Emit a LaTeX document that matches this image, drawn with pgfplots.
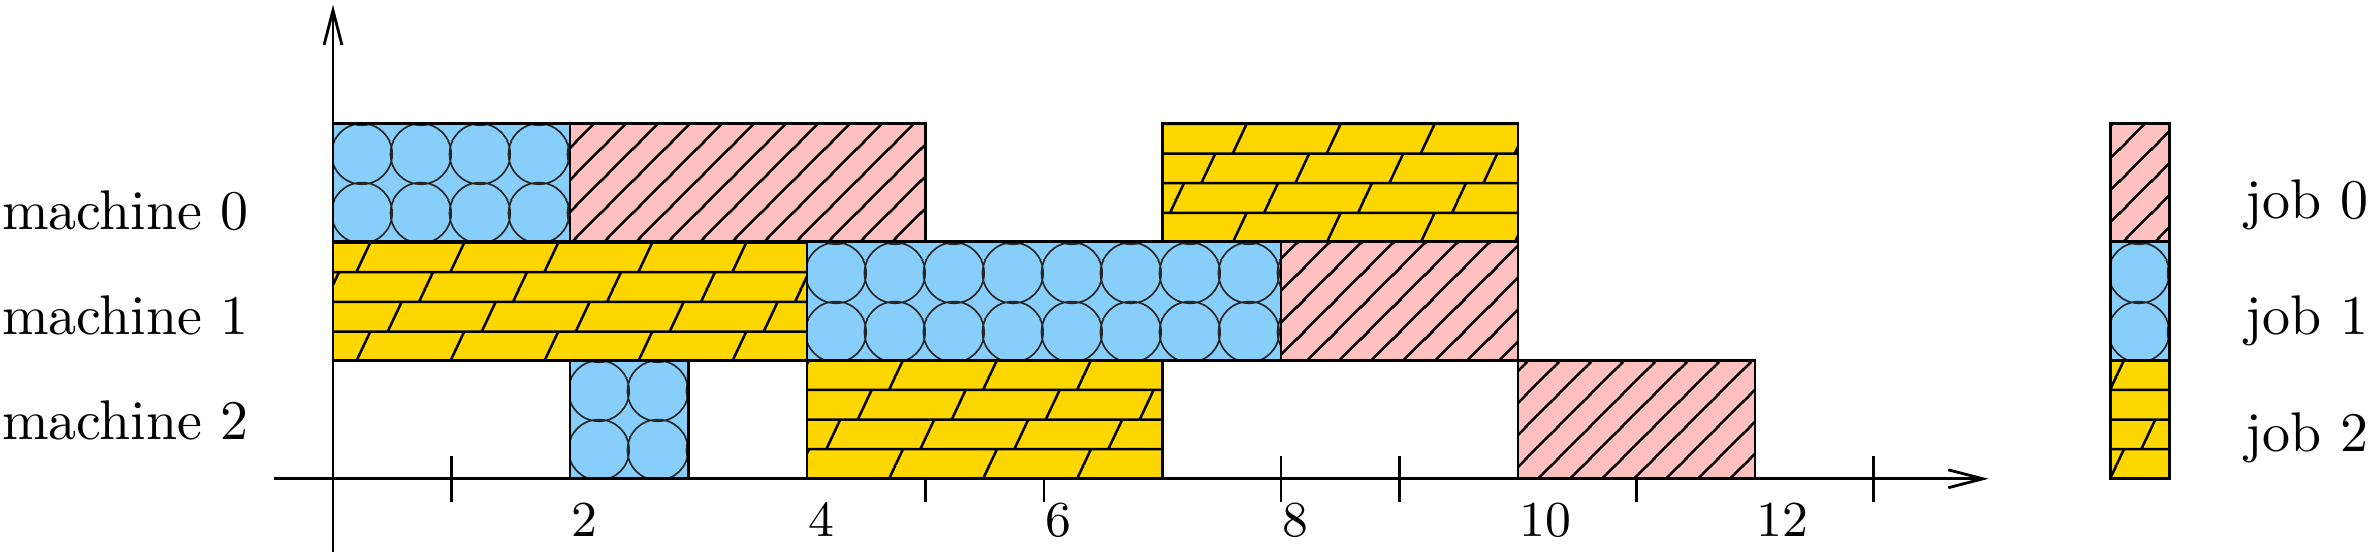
\documentclass[border=0pt]{standalone}
\usepackage{pgfplots}
\pgfplotsset{compat=1.18}
\usetikzlibrary{patterns.meta, arrows.meta}

\definecolor{jobpink}{RGB}{255,192,192}
\definecolor{jobblue}{RGB}{135,206,250}
\definecolor{jobgold}{RGB}{255,215,0}

% patterns are phased against the page corner (-59.57pt,-13.42pt),
% offsets below put the tiles on the axis unit grid
% job 0: 45 degree hatching
\tikzdeclarepattern{
  name=diaglines,
  type=uncolored,
  bounding box={(0pt,0pt) and (5.66pt,5.66pt)},
  tile size={(5.66pt,5.66pt)},
  code={\draw[line width=0.45pt] (0.2pt,-1pt) -- (6.66pt,5.46pt)
    (-1pt,3.46pt) -- (2.2pt,6.66pt);}
}
% job 1: circles, two per unit, barely overlapping
\tikzdeclarepattern{
  name=circlegrid,
  type=uncolored,
  bounding box={(0pt,0pt) and (10.6pt,10.6pt)},
  tile size={(10.6pt,10.6pt)},
  code={\draw[line width=0.3pt]
    (1.27pt,8.12pt) circle[radius=5.45pt]
    (11.87pt,8.12pt) circle[radius=5.45pt]
    (1.27pt,-2.48pt) circle[radius=5.45pt]
    (11.87pt,-2.48pt) circle[radius=5.45pt];}
}
% job 2: slanted bricks, four courses per unit
\tikzdeclarepattern{
  name=slantbricks,
  type=uncolored,
  bounding box={(0pt,0pt) and (16.8pt,15.9pt)},
  tile size={(16.8pt,15.9pt)},
  code={
    \draw[line width=0.45pt] (0pt,2.82pt) -- (16.8pt,2.82pt)
      (0pt,8.12pt) -- (16.8pt,8.12pt) (0pt,13.42pt) -- (16.8pt,13.42pt)
      (13.47pt,2.82pt) -- (15.97pt,8.12pt)
      (2.27pt,8.12pt) -- (4.77pt,13.42pt)
      (7.87pt,13.42pt) -- (10.37pt,18.72pt)
      (7.87pt,-2.48pt) -- (10.37pt,2.82pt);
  }
}

\pgfplotsset{
  job0/.style={draw=black, line width=0.5pt, fill=jobpink,
    postaction={pattern=diaglines, pattern color=black}},
  job1/.style={draw=black, line width=0.5pt, fill=jobblue,
    postaction={pattern=circlegrid, pattern color=black!85}},
  job2/.style={draw=black, line width=0.5pt, fill=jobgold,
    postaction={pattern=slantbricks, pattern color=black}},
}

\begin{document}
\begin{tikzpicture}
\begin{axis}[
  at={(0,0)}, anchor=origin,
  x=21.2pt, y=21.2pt,
  xmin=-0.5, xmax=13.97, ymin=-0.62, ymax=4.0,
  axis lines=middle,
  axis line style={line width=0.5pt, -{Straight Barb[length=6.2pt,width=3.2pt]}},
  clip=false,
  ytick=\empty,
  xtick={2,4,6,8,10,12},
  major tick length=0pt,
  xticklabel style={font=\small, anchor=north west, inner sep=0pt, yshift=-4.3pt},
  extra x ticks={1,5,6,8,9,11,13},
  extra x tick labels={},
  extra x tick style={major tick length=8.2pt, tick align=center},
  tick style={line width=0.5pt, black},
]
% machine 0 (row 2..3)
\addplot[job1] coordinates {(0,2) (2,2) (2,3) (0,3)} -- cycle;
\addplot[job0] coordinates {(2,2) (5,2) (5,3) (2,3)} -- cycle;
\addplot[job2] coordinates {(7,2) (10,2) (10,3) (7,3)} -- cycle;
% machine 1 (row 1..2)
\addplot[job2] coordinates {(0,1) (4,1) (4,2) (0,2)} -- cycle;
\addplot[job1] coordinates {(4,1) (8,1) (8,2) (4,2)} -- cycle;
\addplot[job0] coordinates {(8,1) (10,1) (10,2) (8,2)} -- cycle;
% machine 2 (row 0..1)
\addplot[job1] coordinates {(2,0) (3,0) (3,1) (2,1)} -- cycle;
\addplot[job2] coordinates {(4,0) (7,0) (7,1) (4,1)} -- cycle;
\addplot[job0] coordinates {(10,0) (12,0) (12,1) (10,1)} -- cycle;
% legend column
\addplot[job0] coordinates {(15,2) (15.5,2) (15.5,3) (15,3)} -- cycle;
\addplot[job1] coordinates {(15,1) (15.5,1) (15.5,2) (15,2)} -- cycle;
\addplot[job2] coordinates {(15,0) (15.5,0) (15.5,1) (15,1)} -- cycle;

\node[anchor=base east, inner sep=0pt] at (axis cs:-0.70,2.10) {machine 0};
\node[anchor=base east, inner sep=0pt] at (axis cs:-0.70,1.22) {machine 1};
\node[anchor=base east, inner sep=0pt] at (axis cs:-0.70,0.33) {machine 2};
\node[anchor=base west, inner sep=0pt] at (axis cs:16.13,2.20) {job 0};
\node[anchor=base west, inner sep=0pt] at (axis cs:16.13,1.22) {job 1};
\node[anchor=base west, inner sep=0pt] at (axis cs:16.13,0.23) {job 2};
\end{axis}
\pgfresetboundingbox
\useasboundingbox (-59.57pt,-13.42pt) rectangle (365.3pt,85.65pt);
\end{tikzpicture}
\end{document}
